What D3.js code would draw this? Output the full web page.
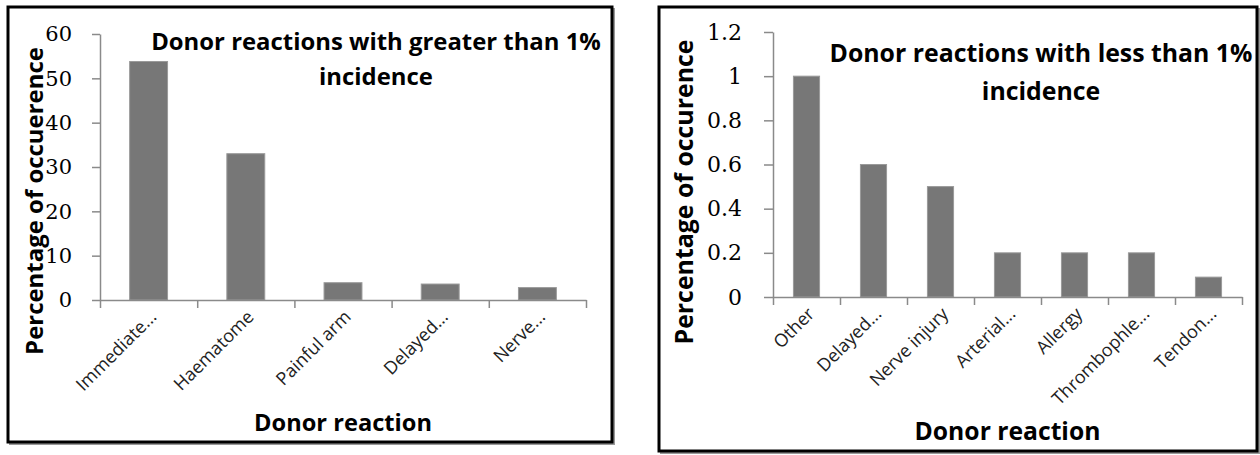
<!DOCTYPE html>
<html><head><meta charset="utf-8">
<script src="https://cdn.jsdelivr.net/npm/d3@7"></script>
<style>
html,body{margin:0;padding:0;background:#fff;}
svg{display:block;}
</style></head>
<body>
<svg id="chart" width="1260" height="455"></svg>
<script>
// ---- data ----
const leftCategories = ["Immediate...", "Haematome", "Painful arm", "Delayed...", "Nerve..."];
const leftValues = [53.8, 33.0, 3.9, 3.6, 2.8];
const leftTicks = [0, 10, 20, 30, 40, 50, 60];
const leftTickLabels = ["0", "10", "20", "30", "40", "50", "60"];
const leftTitle = ["Donor reactions with greater than 1%", "incidence"];
const leftYLabel = "Percentage of occuerence";

const rightCategories = ["Other", "Delayed...", "Nerve injury", "Arterial...", "Allergy", "Thrombophle...", "Tendon..."];
const rightValues = [1.0, 0.6, 0.5, 0.2, 0.2, 0.2, 0.09];
const rightTicks = [0, 0.2, 0.4, 0.6, 0.8, 1.0, 1.2];
const rightTickLabels = ["0", "0.2", "0.4", "0.6", "0.8", "1", "1.2"];
const rightTitle = ["Donor reactions with less than 1%", "incidence"];
const rightYLabel = "Percentage of occurence";

const xAxisTitle = "Donor reaction";

const svg = d3.select("#chart");
const titleFont = "'Open Sans', Lato, sans-serif";
const tickFont = "'DejaVu Serif', 'Liberation Serif', serif";

// scale a text element's font so its rendered width matches a target width
function fitWidth(sel, target, base) {
  const n = sel.node();
  const w = n.getComputedTextLength();
  if (w > 0) sel.attr("font-size", base * target / w);
}

function drawChart(cfg) {
  const g = svg.append("g");
  // frame
  g.append("rect").attr("x", cfg.box[0] + 2).attr("y", cfg.box[1] + 2)
    .attr("width", cfg.box[2] - cfg.box[0]).attr("height", cfg.box[3] - cfg.box[1])
    .attr("fill", "none").attr("stroke", "#999").attr("stroke-width", 2);
  g.append("rect").attr("x", cfg.box[0]).attr("y", cfg.box[1])
    .attr("width", cfg.box[2] - cfg.box[0]).attr("height", cfg.box[3] - cfg.box[1])
    .attr("fill", "#fff").attr("stroke", "#000").attr("stroke-width", 3);

  const x = d3.scaleBand().domain(cfg.categories).range([cfg.x0, cfg.x1]).padding(0);
  const xBar = d3.scaleBand().domain(cfg.categories).range([cfg.x0, cfg.x1])
    .paddingInner(0.61).paddingOuter(0.305);
  const y = d3.scaleLinear().domain([0, cfg.yMax]).range([cfg.y0, cfg.y1]);

  // bars
  g.selectAll("rect.bar").data(cfg.values).enter().append("rect")
    .attr("class", "bar")
    .attr("x", (d, i) => xBar(cfg.categories[i]))
    .attr("width", xBar.bandwidth())
    .attr("y", d => y(d))
    .attr("height", d => y(0) - y(d))
    .attr("fill", "#777777").attr("stroke", "#9a9a9a").attr("stroke-width", 1);

  // y axis
  const yAxis = d3.axisLeft(y).tickValues(cfg.ticks)
    .tickFormat((d, i) => cfg.tickLabels[i])
    .tickSize(cfg.tickLen).tickSizeOuter(0).tickPadding(cfg.tickPad);
  const ya = g.append("g").attr("transform", `translate(${cfg.x0},0)`).call(yAxis);
  ya.selectAll("path,line").attr("stroke", "#8a8a8a").attr("stroke-width", 1.5);
  ya.selectAll("text").attr("font-family", tickFont).attr("font-size", cfg.tickFs)
    .attr("fill", "#000");

  // x axis (Excel style: ticks between categories)
  const xLin = d3.scaleLinear().domain([0, cfg.categories.length]).range([cfg.x0, cfg.x1]);
  const xAxis = d3.axisBottom(xLin).tickValues(d3.range(cfg.categories.length + 1))
    .tickFormat("").tickSize(8).tickSizeOuter(0);
  const xa = g.append("g").attr("transform", `translate(0,${cfg.y0})`).call(xAxis);
  xa.selectAll("path,line").attr("stroke", "#8a8a8a").attr("stroke-width", 1.5);

  // category labels
  g.selectAll("text.cat").data(cfg.categories).enter().append("text")
    .attr("class", "cat")
    .attr("transform", d => `translate(${x(d) + x.bandwidth() / 2 + cfg.catDx},${cfg.y0 + cfg.catDy}) rotate(-45)`)
    .attr("text-anchor", "end")
    .attr("font-family", titleFont).attr("font-size", cfg.catFs).attr("fill", "#222")
    .text(d => d);

  // title
  const t = g.append("text").attr("font-family", titleFont).attr("font-weight", "bold")
    .attr("font-size", 20).attr("text-anchor", "middle").attr("fill", "#000");
  const spans = cfg.title.map((line, i) =>
    t.append("tspan").attr("x", cfg.titleX).attr("y", cfg.titleY[i]).text(line));
  const w0 = spans[0].node().getComputedTextLength();
  if (w0 > 0) t.attr("font-size", 20 * cfg.titleW / w0);

  // y label
  const yl = g.append("text").attr("transform", `translate(${cfg.yLabelX},${cfg.yLabelY}) rotate(-90)`)
    .attr("text-anchor", "middle").attr("dominant-baseline", "central")
    .attr("font-family", titleFont).attr("font-weight", "bold")
    .attr("font-size", 20).attr("fill", "#000").text(cfg.yLabel);
  fitWidth(yl, cfg.yLabelW, 20);

  // x title
  const xt = g.append("text").attr("x", (cfg.x0 + cfg.x1) / 2).attr("y", cfg.xTitleY)
    .attr("text-anchor", "middle").attr("dominant-baseline", "central")
    .attr("font-family", titleFont).attr("font-weight", "bold")
    .attr("font-size", 20).attr("fill", "#000").text(xAxisTitle);
  fitWidth(xt, cfg.xTitleW, 20);
}

drawChart({
  box: [8, 7, 612, 442],
  categories: leftCategories, values: leftValues, ticks: leftTicks, tickLabels: leftTickLabels,
  yMax: 60, x0: 100, x1: 586, y0: 300, y1: 34,
  tickLen: 8, tickPad: 20, tickFs: 21,
  catDx: 9, catDy: 18, catFs: 18,
  title: leftTitle, titleX: 376, titleY: [50, 85], titleW: 450,
  yLabel: leftYLabel, yLabelX: 33, yLabelY: 201, yLabelW: 308,
  xTitleY: 422, xTitleW: 178
});

drawChart({
  box: [659, 7, 1257, 451],
  categories: rightCategories, values: rightValues, ticks: rightTicks, tickLabels: rightTickLabels,
  yMax: 1.2, x0: 773, x1: 1242, y0: 297, y1: 32,
  tickLen: 9, tickPad: 22, tickFs: 22,
  catDx: 9, catDy: 18, catFs: 18,
  title: rightTitle, titleX: 1041, titleY: [62, 100], titleW: 423,
  yLabel: rightYLabel, yLabelX: 683, yLabelY: 192, yLabelW: 305,
  xTitleY: 430, xTitleW: 186
});
</script>
</body></html>
